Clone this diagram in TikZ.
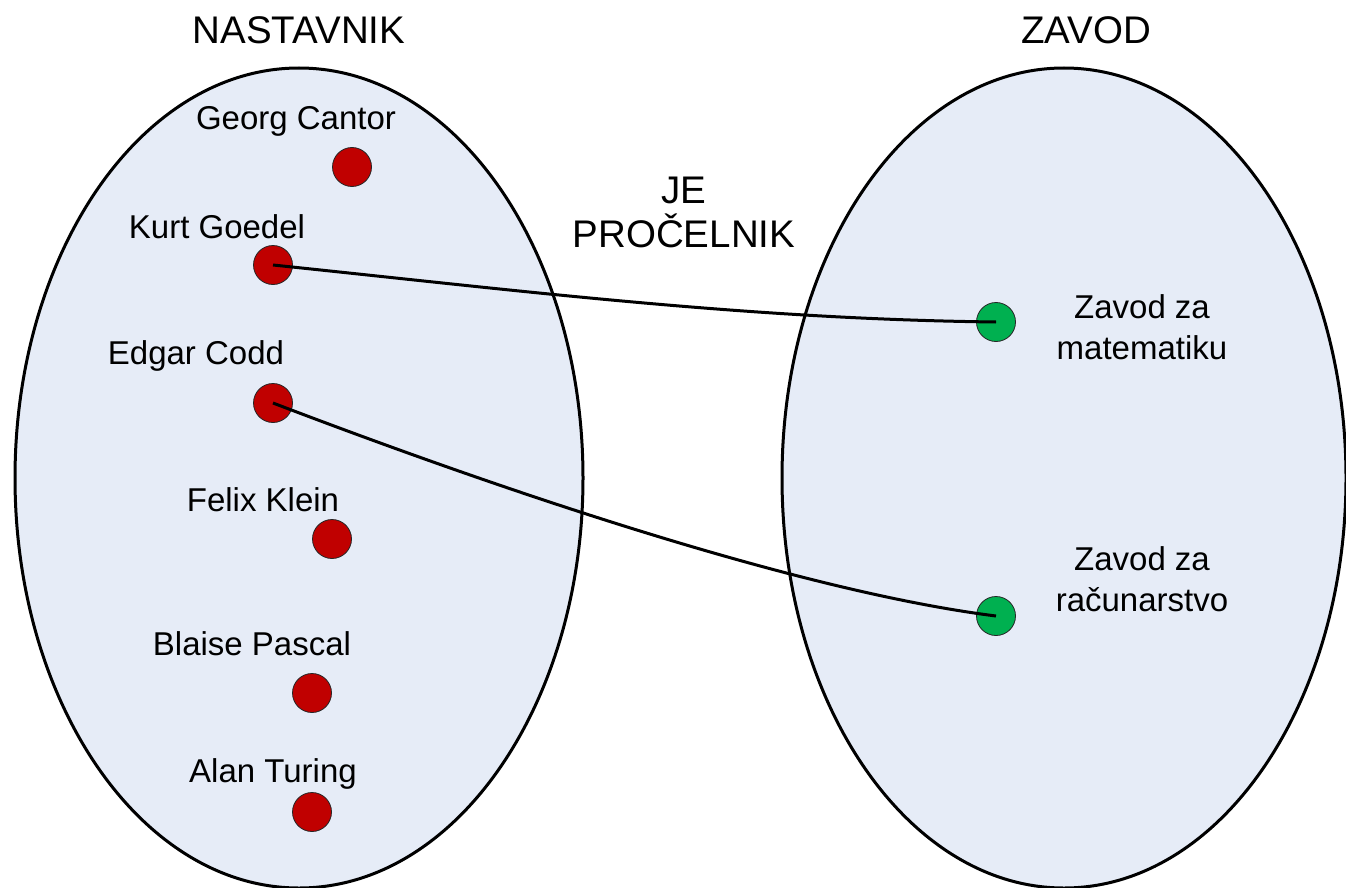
\documentclass[tikz,border=0pt]{standalone}
\usepackage{fontspec}
\setmainfont{Liberation Sans}
\definecolor{setfill}{RGB}{230,236,247}
\definecolor{tred}{RGB}{192,0,0}
\definecolor{zgreen}{RGB}{0,176,80}
\begin{document}
\begin{tikzpicture}[x=1pt,y=-1pt,
  setshape/.style={draw=black, line width=3pt, fill=setfill},
  dotbase/.style={circle, draw=black!85, line width=0.8pt, minimum size=39pt, inner sep=0pt},
  tdot/.style={dotbase, fill=tred},
  zdot/.style={dotbase, fill=zgreen},
  lbl/.style={font=\fontsize{33}{41}\selectfont, align=center, inner sep=0pt},
  head/.style={font=\fontsize{38.5}{44}\selectfont, align=center, inner sep=0pt},
  link/.style={line width=3pt}]
\useasboundingbox (0,0) rectangle (1346,888);

% the two sets
\draw[setshape] (299,478) ellipse [x radius=284, y radius=410];
\draw[setshape] (1064,478) ellipse [x radius=282, y radius=410];

% set titles
\node[head] (tnast) at (299,30) {NASTAVNIK};
\node[head] (tzav) at (1086,30) {ZAVOD};
\node[head] (rel) at (684,212) {JE\\PROČELNIK};

% teachers
\node[lbl] (lcantor) at (296,121) {Georg Cantor};
\node[tdot] (cantor) at (352,167) {};
\node[lbl] (lgoedel) at (217,227) {Kurt Goedel};
\node[tdot] (goedel) at (273,265) {};
\node[lbl] (lcodd) at (196,356) {Edgar Codd};
\node[tdot] (codd) at (273,403) {};
\node[lbl] (lklein) at (263,500) {Felix Klein};
\node[tdot] (klein) at (332,539) {};
\node[lbl] (lpascal) at (252,644) {Blaise Pascal};
\node[tdot] (pascal) at (312,693) {};
\node[lbl] (lturing) at (273,774) {Alan Turing};
\node[tdot] (turing) at (312,812) {};

% departments
\node[zdot] (mat) at (996,322) {};
\node[lbl] (lmat) at (1142,327) {Zavod za\\matematiku};
\node[zdot] (rac) at (996,616) {};
\node[lbl] (lrac) at (1142,579) {Zavod za\\računarstvo};

% relation
\draw[link] (goedel.center) .. controls (523,291) and (746,319) .. (mat.center);
\draw[link] (codd.center) .. controls (480,482) and (790,590) .. (rac.center);
\end{tikzpicture}
\end{document}
